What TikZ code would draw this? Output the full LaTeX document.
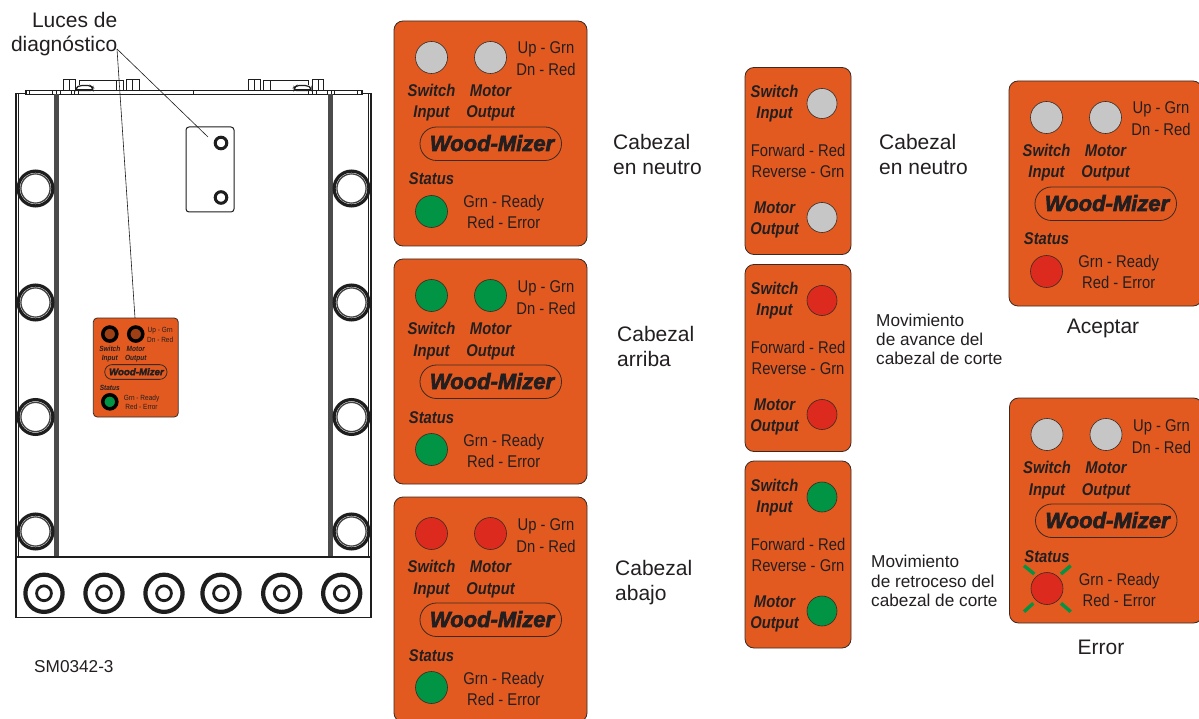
\documentclass[tikz,border=0pt]{standalone}
\usepackage{fontspec}
\setmainfont{Liberation Sans}
\newfontfamily\pnarrow[FakeStretch=0.87]{Liberation Sans}
\newfontfamily\logofont[BoldItalicFeatures={FakeBold=3}]{Liberation Sans}
\definecolor{panelor}{HTML}{E25A20}
\definecolor{panelin}{HTML}{3A2A22}
\definecolor{ledgrey}{HTML}{C6C6C6}
\definecolor{ledgreen}{HTML}{009444}
\definecolor{ledred}{HTML}{DC2A1E}
\definecolor{ink}{HTML}{231F20}
\definecolor{encl}{HTML}{1E1E1E}
\tikzset{
  panelbox/.style={fill=panelor,draw=panelin,line width=0.8pt},
  paneltxt/.style={inner sep=0pt,anchor=base,text=ink,font=\pnarrow\fontsize{17}{17}\selectfont,transform shape},
  panelbold/.style={inner sep=0pt,anchor=base,text=ink,font=\pnarrow\fontsize{17}{17}\selectfont\bfseries\itshape,transform shape},
  logotxt/.style={inner sep=0pt,anchor=base,text=ink,font=\logofont\fontsize{22}{22}\selectfont\bfseries\itshape,transform shape},
  lbl/.style={inner sep=0pt,text=ink,font=\fontsize{21}{21}\selectfont},
  lblsmall/.style={inner sep=0pt,text=ink,font=\fontsize{17.2}{17.2}\selectfont},
  enc/.style={draw=encl,line width=0.8pt},
  encthick/.style={draw=encl,line width=1.2pt},
  leader/.style={draw=encl,line width=0.6pt},
  ray/.style={draw=ledgreen,line width=3.4pt},
}
% name, x, y, scale, colour 1, colour 2, status colour, led ring width, led ring colour
\newcommand{\bigpanel}[9]{%
  \begin{scope}[shift={(#2,#3)},scale=#4]
    \draw[panelbox,rounded corners=#4*9pt] (0,0) rectangle (193,225);
    \draw[fill=#5,draw=#9,line width=#8] (37.5,36.5) circle (16);
    \draw[fill=#6,draw=#9,line width=#8] (96.5,36.5) circle (16);
    \draw[fill=#7,draw=#9,line width=#8] (37.5,190.5) circle (16);
    \node[paneltxt] (#1-up) at (152,33) {Up - Grn};
    \node[paneltxt] (#1-dn) at (152,55) {Dn - Red};
    \node[panelbold] (#1-sw) at (37.5,75.7) {Switch};
    \node[panelbold] (#1-in) at (37.5,97) {Input};
    \node[panelbold] (#1-mo) at (96.5,75.7) {Motor};
    \node[panelbold] (#1-ou) at (96.5,97) {Output};
    \draw[draw=panelin,line width=0.8pt,rounded corners=#4*16.5pt] (26,106) rectangle (167.5,139.5);
    \node[logotxt] (#1-logo) at (98,130) {Wood-Mizer};
    \node[panelbold] (#1-st) at (37.5,164) {Status};
    \node[paneltxt] (#1-gr) at (109.7,187) {Grn - Ready};
    \node[paneltxt] (#1-re) at (109.7,208) {Red - Error};
  \end{scope}}
% name, x, y, colour 1, colour 2
\newcommand{\tallpanel}[5]{%
  \begin{scope}[shift={(#2,#3)}]
    \draw[panelbox,rounded corners=9pt] (0,0) rectangle (106,187);
    \draw[fill=#4,draw=panelin,line width=0.6pt] (77,36) circle (15);
    \draw[fill=#5,draw=panelin,line width=0.6pt] (77,150) circle (15);
    \node[panelbold] (#1-sw) at (29.5,30) {Switch};
    \node[panelbold] (#1-in) at (29.5,51) {Input};
    \node[panelbold] (#1-mo) at (29.5,146) {Motor};
    \node[panelbold] (#1-ou) at (29.5,167) {Output};
    \node[paneltxt] (#1-fw) at (53,89) {Forward - Red};
    \node[paneltxt] (#1-rv) at (53,110) {Reverse - Grn};
  \end{scope}}
\newcommand{\enchalf}{%
  \draw[enc] (25,90.5) rectangle (193.5,94.5);
  \foreach \xx in {26,29.3,52.7,56,60,71,74.3,78.3} {\draw[enc] (\xx,90.5) -- (\xx,94.5);}
  \draw[enc] (63.3,90.5) -- (63.3,79) -- (75,79) -- (75,90.5);
  \draw[enc] (69,79) -- (69,90.5);
  \draw[enc] (79,85) -- (79,80.5) -- (123.3,80.5) -- (123.3,90.5);
  \draw[enc] (116.7,80.5) -- (116.7,90.5);
  \draw[enc] (126.7,90.5) -- (126.7,79) -- (139,79) -- (139,90.5);
  \draw[enc] (132.7,79) -- (132.7,90.5);
  \draw[encthick,fill=white,rounded corners=2pt] (76,90.5) -- (76,87.5) -- (80,85.5) -- (90,85.5) -- (92.7,87.5) -- (92.7,90.5) -- cycle;
  \draw[enc,line width=1.6pt] (76,89.5) -- (92.7,89.5);
  \draw[encthick] (25,93.8) -- (16,93.8) -- (16,557);
  \draw[enc] (18.3,94) -- (18.3,557);
  \draw[draw=encl!80,line width=5pt] (56.5,94.5) -- (56.5,557);
  \draw[encthick] (16,557) -- (59,557);
  \foreach \yy in {188.5,302.5,417,531.5} {
    \draw[encl,line width=3.2pt,fill=white] (35.5,\yy) circle (17.4);
    \draw[encl!85,line width=1.3pt] (35.5,\yy) circle (14.6);
  }
}
\begin{document}
\begin{tikzpicture}[x=1pt,y=-1pt]
\useasboundingbox (0,0) rectangle (1199,719);
\clip (0,0) rectangle (1199,719);
\fill[white] (0,0) rectangle (1199,719);
% enclosure
\begin{scope}\enchalf\end{scope}
\begin{scope}[xshift=387pt,xscale=-1]\enchalf\end{scope}
\draw[encthick] (59,557) -- (328,557);
\draw[encthick] (16,557) rectangle (371,617.5);
\foreach \xx in {44,104,164,221,281.7,341.7} {
  \draw[encl,line width=4.2pt] (\xx,593.3) circle (18.6);
  \draw[encl,line width=2.8pt] (\xx,593.3) circle (7.4);
}
\draw[enc,line width=1pt,rounded corners=3pt] (186,127) rectangle (234,212);
\draw[encl,line width=3pt] (221,143) circle (5.8);
\draw[encl,line width=3pt] (221,197.5) circle (5.8);
% small panel on the enclosure
\bigpanel{tiny}{93.3}{318}{0.44}{panelor!70!black}{panelor!70!black}{ledgreen}{3.5pt}{black}
% leaders
\node[lbl,anchor=base east] (luces) at (117.5,28) {Luces de};
\node[lbl,anchor=base east] (diag) at (117.5,51.5) {diagnóstico};
\coordinate (hub) at (117,49);
\coordinate (ledA) at (208,137);
\coordinate (ledB) at (135,318);
\draw[leader] (hub) -- (ledA);
\draw[leader] (hub) -- (ledB);
\node[lblsmall,anchor=base west] (code) at (34,672) {SM0342-3};
% big panels
\bigpanel{pa}{394}{21}{1}{ledgrey}{ledgrey}{ledgreen}{0.6pt}{panelin}
\bigpanel{pb}{394}{259}{1}{ledgreen}{ledgreen}{ledgreen}{0.6pt}{panelin}
\bigpanel{pc}{394}{497}{1}{ledred}{ledred}{ledgreen}{0.6pt}{panelin}
\bigpanel{pd}{1009}{81}{1}{ledgrey}{ledgrey}{ledred}{0.6pt}{panelin}
\bigpanel{pe}{1009.5}{398}{1}{ledgrey}{ledgrey}{ledred}{0.6pt}{panelin}
\draw[ray] (1024,565.7) -- (1034.3,574);
\draw[ray] (1070.7,565.7) -- (1061,574);
\draw[ray] (1024,611.7) -- (1033.3,603.3);
\draw[ray] (1070.7,611.7) -- (1061,603.3);
% tall panels
\tallpanel{ta}{745}{67.5}{ledgrey}{ledgrey}
\tallpanel{tb}{745}{264.5}{ledred}{ledred}
\tallpanel{tc}{745}{461}{ledgreen}{ledgreen}
% labels
\node[lbl,anchor=base west] (l1a) at (613,150) {Cabezal};
\node[lbl,anchor=base west] (l1b) at (613,175) {en neutro};
\node[lbl,anchor=base west] (l2a) at (617,341) {Cabezal};
\node[lbl,anchor=base west] (l2b) at (617,366) {arriba};
\node[lbl,anchor=base west] (l3a) at (615,575) {Cabezal};
\node[lbl,anchor=base west] (l3b) at (615,600) {abajo};
\node[lbl,anchor=base west] (l4a) at (879,150) {Cabezal};
\node[lbl,anchor=base west] (l4b) at (879,175) {en neutro};
\node[lblsmall,anchor=base west] (m1a) at (876,326) {Movimiento};
\node[lblsmall,anchor=base west] (m1b) at (876,345) {de avance del};
\node[lblsmall,anchor=base west] (m1c) at (876,364) {cabezal de corte};
\node[lblsmall,anchor=base west] (m2a) at (871,567) {Movimiento};
\node[lblsmall,anchor=base west] (m2b) at (871,587) {de retroceso del};
\node[lblsmall,anchor=base west] (m2c) at (871,606) {cabezal de corte};
\node[lbl,anchor=base] (ok) at (1103,333) {Aceptar};
\node[lbl,anchor=base] (err) at (1101,654) {Error};
\end{tikzpicture}
\end{document}
